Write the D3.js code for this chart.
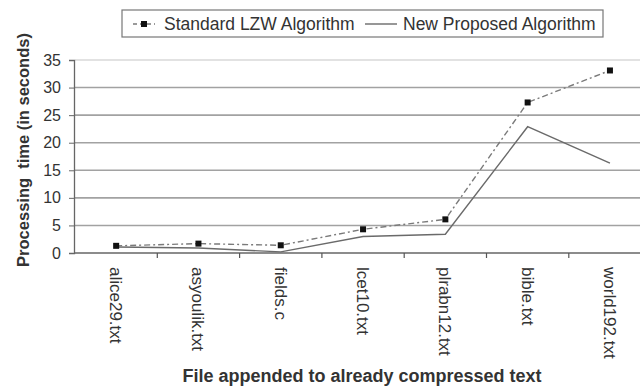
<!DOCTYPE html>
<html>
<head>
<meta charset="utf-8">
<script src="https://cdn.jsdelivr.net/npm/d3@7/dist/d3.min.js"></script>
<style>
  html, body { margin: 0; padding: 0; background: #fff; }
  svg { display: block; }
  text { font-family: "Liberation Sans", Arial, sans-serif; fill: #333; }
</style>
</head>
<body>
<svg id="chart" width="640" height="387"></svg>
<script>
// Files appended to already compressed text
const categories = ["alice29.txt", "asyoulik.txt", "fields.c", "lcet10.txt", "plrabn12.txt", "bible.txt", "world192.txt"];
// Processing time in seconds
const standardLZW = [1.3, 1.7, 1.4, 4.3, 6.1, 27.3, 33.1];
const newProposed = [1.1, 0.9, 0.2, 3.0, 3.4, 22.9, 16.3];
const yTicks = [0, 5, 10, 15, 20, 25, 30, 35];
const seriesNames = ["Standard LZW Algorithm", "New Proposed Algorithm"];

const svg = d3.select("#chart");

const left = 75, bandW = 82.3;
const x = d3.scaleBand().domain(categories).range([left, left + bandW * categories.length]).padding(0);
const y = d3.scaleLinear().domain([0, 35]).range([253, 60]);
const cx = d => x(d) + x.bandwidth() / 2;

// horizontal gridlines
svg.append("g").selectAll("line").data(yTicks.filter(t => t > 0)).join("line")
  .attr("x1", left).attr("x2", 640)
  .attr("y1", d => y(d)).attr("y2", d => y(d))
  .attr("stroke", d => d === 35 ? "#d8d8d8" : "#a2a2a2")
  .attr("stroke-width", 1.6);

// y axis
const yAxis = svg.append("g").attr("transform", `translate(${left - 1},0)`)
  .call(d3.axisLeft(y).tickValues(yTicks).tickSize(5).tickPadding(8));
yAxis.select(".domain").attr("stroke", "#666").attr("stroke-width", 1.3);
yAxis.selectAll(".tick line").attr("stroke", "#666");
yAxis.selectAll(".tick text")
  .style("font-family", "'Liberation Sans', Arial, sans-serif")
  .style("font-size", "16px").attr("fill", "#4a4a4a");

// x axis with ticks at category boundaries
const xAxisG = svg.append("g").attr("transform", "translate(0,253)");
xAxisG.append("line").attr("x1", left - 1).attr("x2", 640).attr("y1", 0).attr("y2", 0)
  .attr("stroke", "#666").attr("stroke-width", 1.5);
xAxisG.selectAll("line.tk").data(categories.slice(1)).join("line").attr("class", "tk")
  .attr("x1", d => x(d)).attr("x2", d => x(d)).attr("y1", 0).attr("y2", 5)
  .attr("stroke", "#555").attr("stroke-width", 1.2);
xAxisG.selectAll("text").data(categories).join("text")
  .attr("transform", d => `translate(${cx(d)},14) rotate(90)`)
  .attr("dy", "0.36em")
  .attr("text-anchor", "start")
  .style("font-size", "17px").attr("fill", "#444")
  .text(d => d);

// series lines
const line = d3.line().x((d, i) => cx(categories[i])).y(d => y(d));
svg.append("path").datum(newProposed).attr("d", line)
  .attr("fill", "none").attr("stroke", "#6a6a6a").attr("stroke-width", 1.4);
svg.append("path").datum(standardLZW).attr("d", line)
  .attr("fill", "none").attr("stroke", "#7a7a7a").attr("stroke-width", 1.4)
  .attr("stroke-dasharray", "6,3,2,3");
svg.append("g").selectAll("rect").data(standardLZW).join("rect")
  .attr("x", (d, i) => cx(categories[i]) - 3).attr("y", d => y(d) - 3)
  .attr("width", 6).attr("height", 6).attr("fill", "#111");

// axis titles
svg.append("text")
  .attr("transform", "translate(29,150) rotate(-90)")
  .attr("text-anchor", "middle")
  .style("font-size", "16.5px").style("font-weight", "bold").attr("fill", "#222")
  .attr("xml:space", "preserve")
  .text("Processing  time (in seconds)");
svg.append("text")
  .attr("x", 362).attr("y", 382)
  .attr("text-anchor", "middle")
  .style("font-size", "18px").style("font-weight", "bold").attr("fill", "#222")
  .text("File appended to already compressed text");

// legend
const lg = svg.append("g");
lg.append("rect").attr("x", 122).attr("y", 10).attr("width", 481).attr("height", 27)
  .attr("fill", "#fff").attr("stroke", "#777").attr("stroke-width", 1.2);
lg.append("line").attr("x1", 133).attr("x2", 155).attr("y1", 24).attr("y2", 24)
  .attr("stroke", "#7a7a7a").attr("stroke-width", 1.4).attr("stroke-dasharray", "4,3");
lg.append("rect").attr("x", 141).attr("y", 21).attr("width", 6).attr("height", 6).attr("fill", "#111");
lg.append("text").attr("x", 164).attr("y", 30).style("font-size", "17.5px").attr("fill", "#333").text(seriesNames[0]);
lg.append("line").attr("x1", 365).attr("x2", 397).attr("y1", 24).attr("y2", 24)
  .attr("stroke", "#6a6a6a").attr("stroke-width", 1.4);
lg.append("text").attr("x", 403).attr("y", 30).style("font-size", "17.5px").attr("fill", "#333").text(seriesNames[1]);
</script>
</body>
</html>
